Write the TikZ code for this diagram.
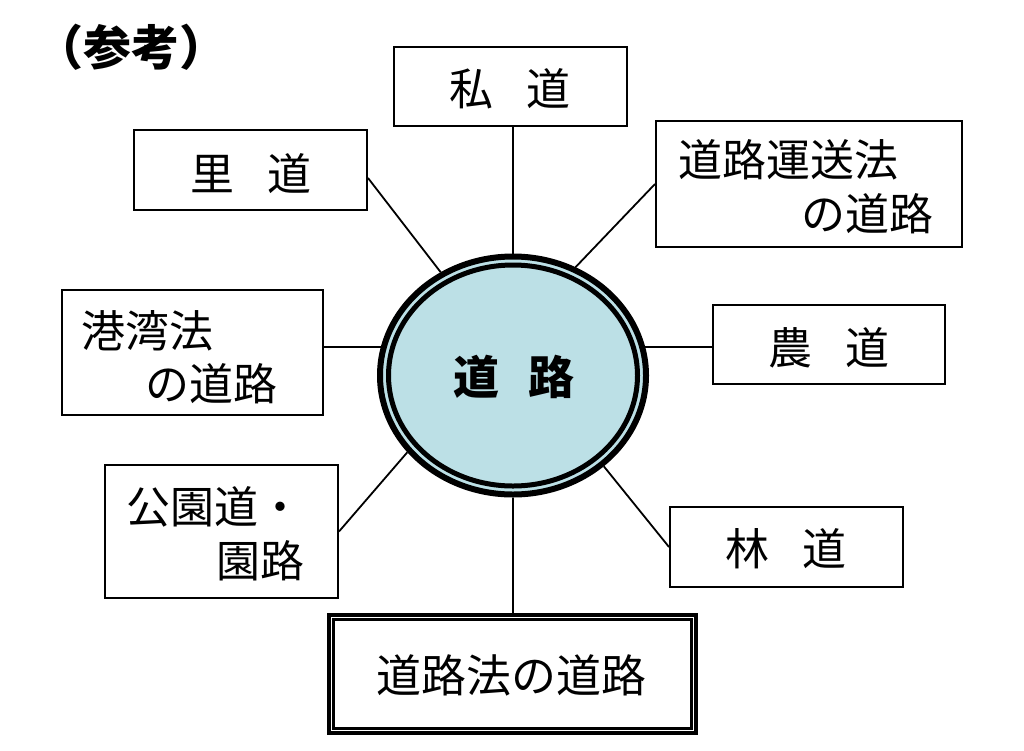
\documentclass[tikz,border=0pt]{standalone}
\usepackage{fontspec}
\setmainfont{Noto Sans CJK JP}
\usetikzlibrary{shapes.geometric,calc}
\definecolor{lb}{RGB}{188,224,230}
\begin{document}
\begin{tikzpicture}[x=1pt,y=-1pt,
  frame/.style={draw,line width=2pt,inner sep=0pt},
  lbl/.style={inner sep=0pt,font=\fontsize{44}{44}\selectfont},
  con/.style={line width=1.8pt}]
\useasboundingbox[fill=white] (0,0) rectangle (1024,750);

% frames
\node[frame,minimum width=233pt,minimum height=79pt] (sd) at (510.5,86.5) {};
\node[frame,minimum width=233pt,minimum height=80pt] (ri) at (250.5,170) {};
\node[frame,minimum width=306pt,minimum height=126pt] (dr) at (809,184) {};
\node[frame,minimum width=261pt,minimum height=125pt] (kw) at (192.5,352.5) {};
\node[frame,minimum width=232pt,minimum height=79pt] (nd) at (829,344.5) {};
\node[frame,minimum width=233pt,minimum height=133pt] (kn) at (221.5,531.5) {};
\node[frame,minimum width=233pt,minimum height=80pt] (rd) at (786.5,547) {};
\node[draw,line width=4pt,inner sep=0pt,minimum width=367pt,minimum height=118pt] (dl) at (512.5,674) {};
\draw[line width=3pt] ($(dl.north west)+(6.5,6.5)$) rectangle ($(dl.south east)+(-6.5,-6.5)$);

% central ellipse
\node[ellipse,draw,line width=6pt,fill=lb,minimum width=266pt,minimum height=238pt,inner sep=0pt] (c) at (513,375.5) {};
\draw[line width=5pt,fill=lb] (c.center) ellipse [x radius=124.5,y radius=110.5];

% connectors
\draw[con] (sd.south -| c.north) -- (c.north);
\draw[con] ($(ri.east)+(0,8)$) -- (c.125);
\draw[con] (dr.west) -- (c.60);
\draw[con] (kw.east |- c.168) -- (c.168);
\draw[con] (nd.west |- c.12) -- (c.12);
\draw[con] (kn.east) -- (c.216);
\draw[con] (rd.west) -- (c.315);
\draw[con] (c.south) -- (c.south |- dl.north);

% texts
\node[lbl,font=\fontsize{48}{48}\selectfont\bfseries] (ti) at (131,47) {（参考）};
\node[lbl] (tsd) at (510,89) {私\hspace{33pt}道};
\node[lbl] (tri) at (251,174) {里\hspace{33pt}道};
\node[lbl] (tdr1) at (788.5,160) {道路運送法};
\node[lbl] (tdr2) at (867.5,214) {の道路};
\node[lbl] (tkw1) at (147,331) {港湾法};
\node[lbl] (tkw2) at (211,384) {の道路};
\node[lbl] (tnd) at (829,347.5) {農\hspace{33pt}道};
\node[lbl] (tkn1) at (214,507) {公園道・};
\node[lbl] (tkn2) at (260.5,561) {園路};
\node[lbl] (trd) at (786,549) {林\hspace{33pt}道};
\node[lbl,font=\fontsize{45}{45}\selectfont] (tdl) at (511.5,675) {道路法の道路};
\node[lbl,font=\fontsize{46}{46}\selectfont\bfseries] (tc) at (514,377) {道\hspace{29pt}路};
\end{tikzpicture}
\end{document}
